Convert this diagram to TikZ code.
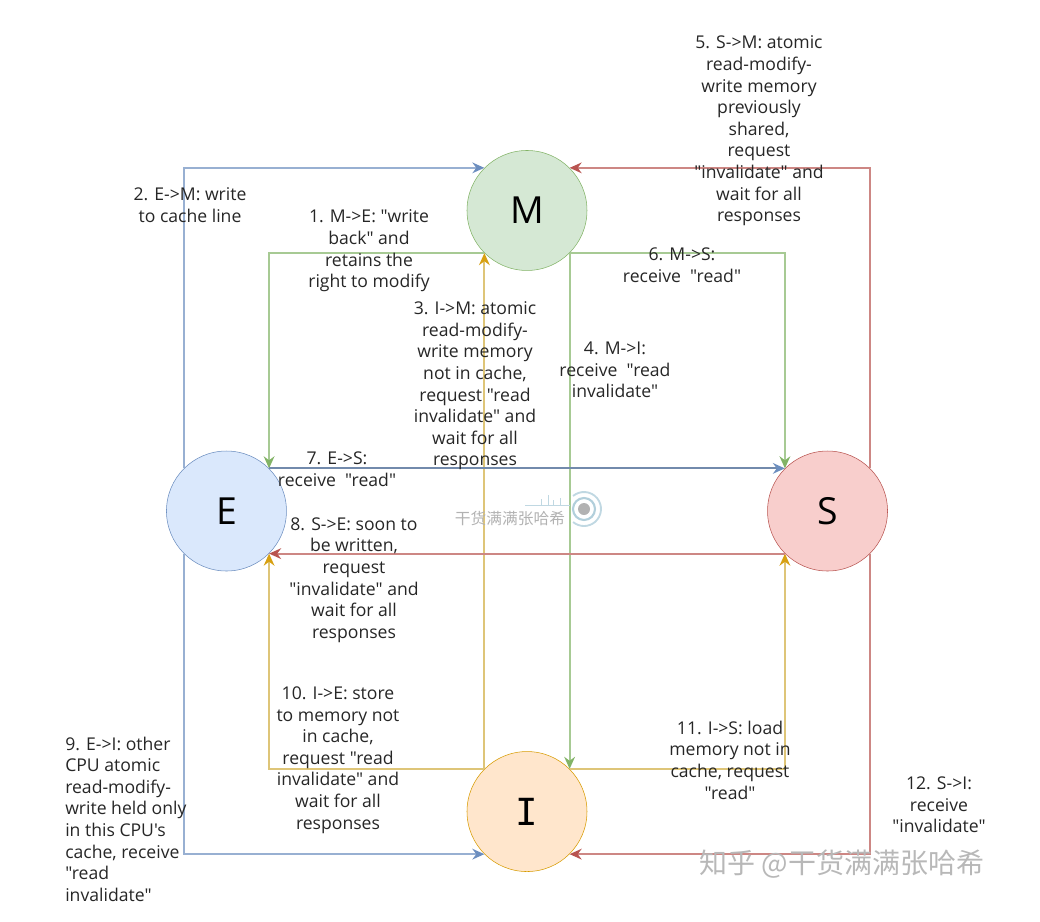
\documentclass[tikz,border=0pt]{standalone}
\usepackage{fontspec}
\usepackage{tikz}
\usetikzlibrary{positioning, matrix, arrows.meta}
\setmainfont[Ligatures=TeXOff]{Open Sans}
\newfontfamily\cjk{Noto Sans CJK SC}
\newfontfamily\monofont{DejaVu Sans Mono}
\definecolor{darkb}{HTML}{6C8EBF}
\definecolor{darkgn}{HTML}{82B366}
\definecolor{darkr}{HTML}{B85450}
\definecolor{darky}{HTML}{D6B656}
\definecolor{darko}{HTML}{D79B00}
\definecolor{lightb}{HTML}{DAE8FC}
\definecolor{lightgn}{HTML}{D5E8D4}
\definecolor{lightr}{HTML}{F8CECC}
\definecolor{lighto}{HTML}{FFE6CC}

\begin{document}
\begin{tikzpicture}[x=0.75pt, y=-0.75pt,
       gn/.style={circle, inner sep=0pt, minimum size=90pt, draw=darkgn, fill=lightgn, font=\fontsize{28}{28}\selectfont},
       bn/.style={circle, inner sep=0pt, minimum size=90pt, draw=darkb, fill=lightb, font=\fontsize{28}{28}\selectfont},
       rn/.style={circle, inner sep=0pt, minimum size=90pt, draw=darkr, fill=lightr, font=\fontsize{28}{28}\selectfont},
       yn/.style={circle, inner sep=0pt, minimum size=90pt, draw=darko, fill=lighto, font=\monofont\fontsize{28}{28}\selectfont},
       ba/.style={-{Stealth[length=9pt, width=8pt, color=darkb]}, line width=1.5pt, draw=darkb!70!white},
       ga/.style={-{Stealth[length=9pt, width=8pt, color=darkgn]}, line width=1.5pt, draw=darkgn!70!white},
       ra/.style={-{Stealth[length=9pt, width=8pt, color=darkr]}, line width=1.5pt, draw=darkr!70!white},
       ya/.style={-{Stealth[length=9pt, width=8pt, color=darko!80!darky]}, line width=1.5pt, draw=darky!80!white},
       lbl/.style={align=center, inner sep=0pt, text=black!85, font=\fontsize{13.2}{16.2}\selectfont},
       wm/.style={inner sep=0pt}]
     \useasboundingbox (0,0) rectangle (1040,922);
     \matrix[row sep=135pt, column sep=135pt] at (527,511) {
       & \node[gn] (m) {M}; & \\
       \node[bn] (e) {E}; & & \node[rn] (s) {S}; \\
       & \node[yn] (i) {I}; & \\
     };
     \draw [ba] (e.135) |- (m.135);
     \draw [ba] (e.225) |- (i.225);
     \draw [ra] (s.45) |- (m.45);
     \draw [ra] (s.315) |- (i.315);
     \draw [ga] (m.225) -| (e.45);
     \draw [ga] (m.315) -| (s.135);
     \draw [ga] (m.315) to (i.45);
     \draw [ya] (i.135) to (m.225);
     \draw [ya] (i.135) -| (e.315);
     \draw [ya] (i.45) -| (s.225);
     \draw [ba, draw=darkb!70!gray] (e.45) to (s.135);
     \draw [ra] (s.225) to (e.315);
     % labels
     \node[lbl] (l1) at (369,251) {1. M->E: "write\\back" and\\retains the\\right to modify};
     \node[lbl] (l2) at (190,205) {2. E->M: write\\to cache line};
     \node[lbl] (l3) at (475,386) {3. I->M: atomic\\read-modify-\\write memory\\not in cache,\\request "read\\invalidate" and\\wait for all\\responses};
     \node[lbl] (l4) at (615,370) {4. M->I:\\receive\ \ "read\\invalidate"};
     \node[lbl] (l5) at (759,131) {5. S->M: atomic\\read-modify-\\write memory\\previously\\shared,\\request\\"invalidate" and\\wait for all\\responses};
     \node[lbl] (l6) at (682,265) {6. M->S:\\receive\ \ "read"};
     \node[lbl] (l7) at (337,469) {7. E->S:\\receive\ \ "read"};
     \node[lbl] (l8) at (354,580) {8. S->E: soon to\\be written,\\request\\"invalidate" and\\wait for all\\responses};
     \node[lbl, align=left, anchor=west] (l9) at (65,819) {9. E->I: other\\CPU atomic\\read-modify-\\write held only\\in this CPU's\\cache, receive\\"read\\invalidate"};
     \node[lbl] (l10) at (338,760) {10. I->E: store\\to memory not\\in cache,\\request "read\\invalidate" and\\wait for all\\responses};
     \node[lbl] (l11) at (730,760) {11. I->S: load\\memory not in\\cache, request\\"read"};
     \node[lbl] (l12) at (939,805) {12. S->I:\\receive\\"invalidate"};
     % watermarks
     \node[wm, text=black!30, font=\cjk\fontsize{11.8}{12}\selectfont] (w1) at (510,519) {干货满满张哈希};
     \node[wm, text=black!28, font=\cjk\fontsize{21}{22}\selectfont] (w2) at (842,864) {知乎 @干货满满张哈希};
     \fill[black!30] (584,509) circle (6);
     \draw[cyan!40!gray!50, line width=1.6pt] (584,509) circle (11);
     \draw[cyan!40!gray!40, line width=1.4pt] (584,509) ++(-130:17) arc[start angle=-130, end angle=130, radius=17];
     \draw[cyan!40!gray!40, line width=0.7pt] (525,505) -- (570,505)
       (541,505) -- (541,499) (548,505) -- (548,495) (553,505) -- (553,500) (560,505) -- (560,498);
   \end{tikzpicture}
\end{document}
